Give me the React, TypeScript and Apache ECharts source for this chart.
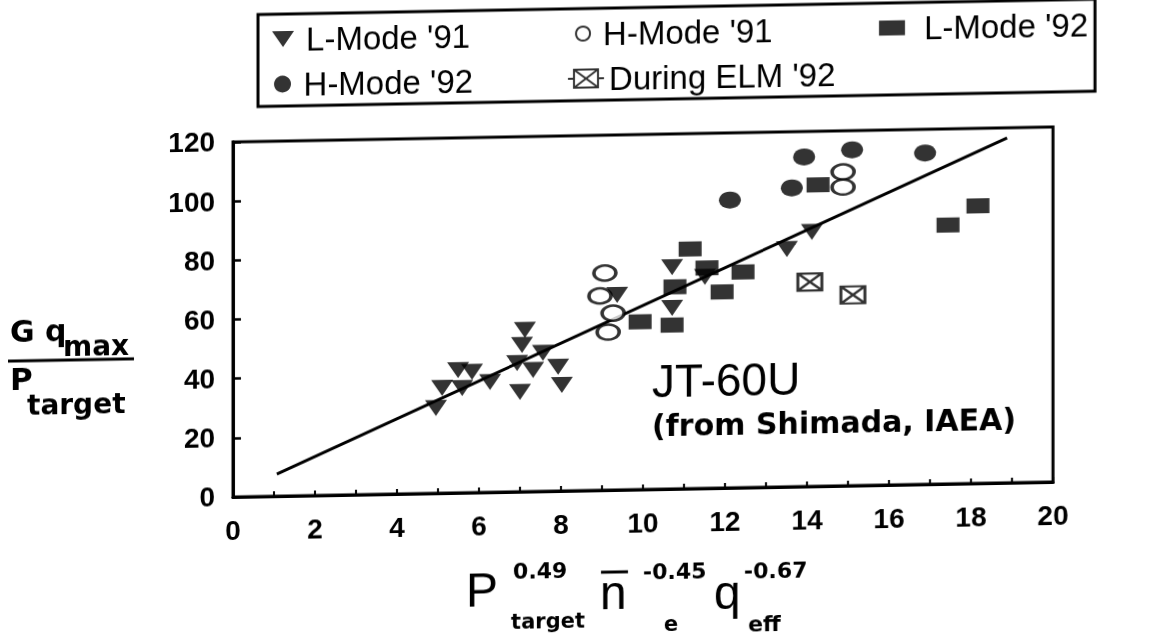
import React, { useEffect, useRef } from "react";
import * as echarts from "echarts";

// Data (x: scaling parameter, y: G qmax / Ptarget)
const lMode91: number[][] = [
  [4.95, 28.8], [5.1, 35.6], [5.49, 41.5], [5.83, 40.8], [5.59, 35.4],
  [6.27, 37.3], [7.12, 54.7], [7.05, 49.6], [6.93, 43.5], [7.32, 41.1],
  [7.56, 46.8], [7.0, 33.7], [7.93, 42.0], [8.02, 35.8], [9.37, 65.9],
  [10.71, 75.0], [10.71, 61.2], [11.51, 71.5], [13.51, 80.4], [14.12, 86.0],
];
const hMode91: number[][] = [
  [9.07, 73.4], [8.95, 65.7], [9.27, 59.8], [9.15, 53.4], [14.88, 106.1], [14.88, 101.0],
];
const lMode92: number[][] = [
  [11.15, 81.0], [10.78, 68.3], [9.93, 56.7], [10.71, 55.4], [11.56, 74.5],
  [11.93, 66.3], [12.44, 72.9], [14.27, 101.9], [17.44, 87.5], [18.17, 93.8],
];
const hMode92: number[][] = [
  [12.12, 97.3], [13.63, 101.0], [13.93, 111.4], [15.1, 113.5], [16.88, 112.0],
];
const elm92: number[][] = [[14.07, 69.1], [15.12, 64.5]];
const fitLine: number[][] = [[1.07, 7.5], [18.88, 116.6]];

const seriesNames = ["L-Mode '91", "H-Mode '91", "L-Mode '92", "H-Mode '92", "During ELM '92"];
const xMin = 0, xMax = 20, yMin = 0, yMax = 120, yStep = 20;

const triPath = "path://M0,0L22,0L11,16Z";
const elmPath = "path://M0,0H24V17H0ZM0,0L24,17M24,0L0,17";
const elmLegendPath = "path://M0,9H6M30,9H36M6,0H30V18H6ZM6,0L30,18M30,0L6,18";

const BOLD = "DejaVu Sans";
const REG = "Liberation Sans";

function legendItem(name: string, left: number, top: number, icon: string, w: number, h: number, gap: number) {
  return {
    data: [{ name, icon }],
    left,
    top,
    padding: 0,
    itemWidth: w,
    itemHeight: h,
    selectedMode: false,
    textStyle: { fontSize: 33, fontFamily: REG, color: "#000", lineHeight: 34, padding: [0, 0, 0, gap] },
  };
}

function txt(text: string, x: number, y: number, size: number, family: string, weight: string = "bold", lh?: number) {
  const style: any = { text, fontSize: size, fontFamily: family, fontWeight: weight, fill: "#000", verticalAlign: "middle", align: "left" };
  if (lh) style.lineHeight = lh;
  return { type: "text", x, y, style };
}

export default function App() {
  const ref = useRef<HTMLDivElement>(null);
  useEffect(() => {
    const chart = echarts.init(ref.current as HTMLDivElement, null, { renderer: "svg" });
    const option: any = {
      animation: false,
      backgroundColor: "#fff",
      grid: { left: 233, top: 142, width: 820, height: 355, show: true, borderColor: "#000", borderWidth: 3, backgroundColor: "transparent" },
      xAxis: {
        type: "value",
        min: xMin,
        max: xMax,
        interval: 1,
        axisLine: { show: true, lineStyle: { color: "#000", width: 3 } },
        axisTick: { show: true, inside: true, length: 5, lineStyle: { color: "#000", width: 2 } },
        splitLine: { show: false },
        axisLabel: {
          fontFamily: REG, fontWeight: "bold", fontSize: 28, color: "#000", margin: 19,
          formatter: (v: number) => (v % 2 === 0 ? String(v) : ""),
        },
      },
      yAxis: {
        type: "value",
        min: yMin,
        max: yMax,
        interval: yStep,
        axisLine: { show: true, lineStyle: { color: "#000", width: 3 } },
        axisTick: { show: true, inside: true, length: 8, lineStyle: { color: "#000", width: 2.5 } },
        splitLine: { show: false },
        axisLabel: { fontFamily: REG, fontWeight: "bold", fontSize: 28, color: "#000", margin: 18 },
      },
      legend: [
        legendItem(seriesNames[0], 272, 23, triPath, 22, 16, 7),
        legendItem(seriesNames[1], 575, 23, "circle", 22, 14, 4),
        legendItem(seriesNames[2], 879, 23, "rect", 26, 15, 14),
        legendItem(seriesNames[3], 274, 68, "circle", 22, 17, 5),
        legendItem(seriesNames[4], 567, 68, elmLegendPath, 36, 18, 0),
      ],
      graphic: [
        { type: "rect", shape: { x: 258, y: 15, width: 837, height: 92 }, style: { fill: "none", stroke: "#000", lineWidth: 3 } },
        // y-axis title: G q_max / P_target
        txt("G q", 10, 328, 30, BOLD),
        txt("max", 63, 344, 28, BOLD),
        { type: "line", shape: { x1: 8, y1: 357, x2: 134, y2: 357 }, style: { stroke: "#000", lineWidth: 3 } },
        txt("P", 10, 375, 31, BOLD),
        txt("target", 27, 402, 28, BOLD),
        // x-axis title
        txt("P", 466, 595, 48, REG, "normal", 48),
        txt("0.49", 513, 577, 22, BOLD, "bold", 22),
        txt("target", 511, 627, 21, BOLD, "bold", 22),
        txt("n", 600, 600, 48, REG, "normal", 48),
        { type: "line", shape: { x1: 601, y1: 579, x2: 628, y2: 579 }, style: { stroke: "#000", lineWidth: 3 } },
        txt("-0.45", 643, 580, 22, BOLD, "bold", 22),
        txt("e", 664, 632, 21, BOLD, "bold", 22),
        txt("q", 714, 602, 48, REG, "normal", 48),
        txt("-0.67", 744, 581, 22, BOLD, "bold", 22),
        txt("eff", 748, 634, 22, BOLD, "bold", 22),
        // annotation
        txt("JT-60U", 652, 389, 46, REG, "normal", 40),
        txt("(from Shimada, IAEA)", 652, 434, 30, BOLD, "bold", 30),
      ],
      series: [
        {
          name: "fit", type: "line", data: fitLine, symbol: "none", z: 1,
          lineStyle: { color: "#000", width: 3 }, silent: true,
        },
        {
          name: seriesNames[0], type: "scatter", data: lMode91, symbol: triPath, symbolSize: [22, 16], z: 3,
          itemStyle: { color: "#000" },
        },
        {
          name: seriesNames[1], type: "scatter", data: hMode91, symbol: "circle", symbolSize: [22, 15], z: 3,
          itemStyle: { color: "#fff", borderColor: "#000", borderWidth: 3 },
        },
        {
          name: seriesNames[2], type: "scatter", data: lMode92, symbol: "rect", symbolSize: [23, 15], z: 3,
          itemStyle: { color: "#000" },
        },
        {
          name: seriesNames[3], type: "scatter", data: hMode92, symbol: "circle", symbolSize: [22, 17], z: 3,
          itemStyle: { color: "#000" },
        },
        {
          name: seriesNames[4], type: "scatter", data: elm92, symbol: elmPath, symbolSize: [24, 17], z: 3,
          itemStyle: { color: "#fff", borderColor: "#000", borderWidth: 2.5 },
        },
      ],
    };
    chart.setOption(option);
    return () => chart.dispose();
  }, []);
  return (
    <div
      style={{
        position: "fixed", left: 0, top: 0, width: 1161, height: 665, background: "#fff",
        transform: "skewY(-1.05deg)", transformOrigin: "233px 497px",
      }}
    >
      <div ref={ref} style={{ width: 1161, height: 665 }} />
    </div>
  );
}
